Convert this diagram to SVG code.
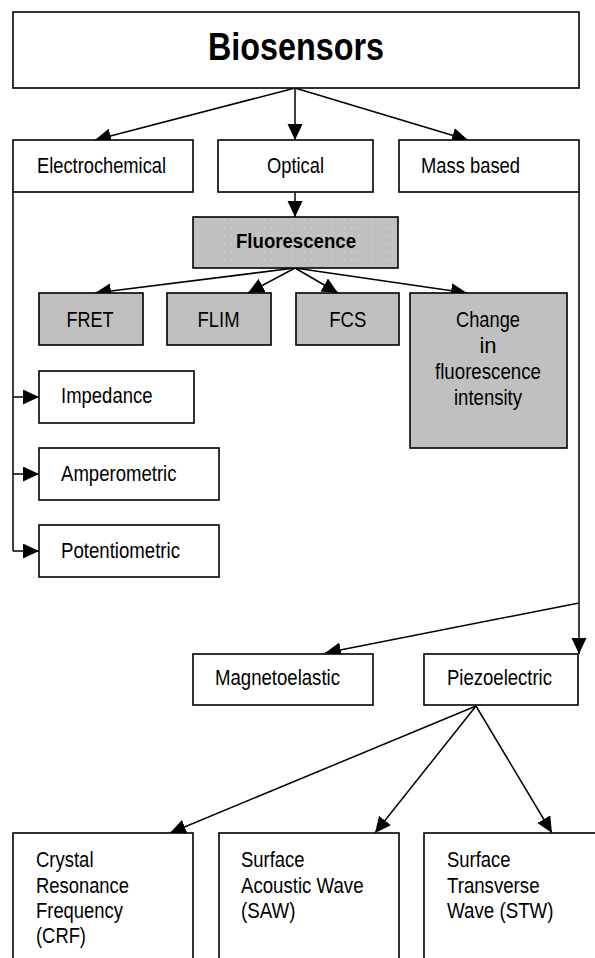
<svg xmlns="http://www.w3.org/2000/svg" width="595" height="958" viewBox="0 0 595 958">
<style>
.box{fill:#fff;stroke:#000;stroke-width:1.6}
.gray{fill:#c0c0c0;stroke:#000;stroke-width:1.6}
.t{font-family:'Liberation Sans Narrow','Liberation Sans',Arial,sans-serif;font-size:22px;fill:#000}
.b{font-weight:bold}
.c{text-anchor:middle}
.ln{fill:none;stroke:#000;stroke-width:1.5}
.ar{fill:none;stroke:#000;stroke-width:1.5;marker-end:url(#ah)}
</style>
<defs>
<marker id="ah" markerUnits="userSpaceOnUse" markerWidth="17" markerHeight="16" refX="16" refY="7.5" orient="auto">
<path d="M0,0 L16,7.5 L0,15 z" fill="#000"/>
</marker>
<pattern id="dots" patternUnits="userSpaceOnUse" width="6.7" height="8">
<rect width="6.7" height="8" fill="#c0c0c0"/>
<rect x="3" y="3" width="1" height="1" fill="#e6e6e6"/>
</pattern>
</defs>
<rect width="595" height="958" fill="#fff"/>

<g id="connectors">
<line class="ar" x1="295" y1="88" x2="95" y2="140"/>
<line class="ar" x1="295" y1="88" x2="295" y2="140"/>
<line class="ar" x1="295" y1="88" x2="468" y2="140"/>
<line class="ar" x1="295" y1="192" x2="295" y2="217"/>
<line class="ar" x1="295" y1="268" x2="95" y2="293"/>
<line class="ar" x1="295" y1="268" x2="248" y2="293"/>
<line class="ar" x1="295" y1="268" x2="338" y2="293"/>
<line class="ar" x1="295" y1="268" x2="467" y2="293"/>
<polyline class="ln" points="13,192 13,551"/>
<line class="ar" x1="13" y1="397" x2="39" y2="397"/>
<line class="ar" x1="13" y1="474" x2="39" y2="474"/>
<line class="ar" x1="13" y1="551" x2="39" y2="551"/>
<line class="ar" x1="579" y1="192" x2="579" y2="654"/>
<line class="ar" x1="579" y1="603" x2="325" y2="653"/>
<line class="ar" x1="476" y1="706" x2="170" y2="833"/>
<line class="ar" x1="476" y1="706" x2="375" y2="833"/>
<line class="ar" x1="476" y1="706" x2="552" y2="833"/>
</g>

<g id="biosensors">
<rect class="box" x="13" y="12" width="566" height="76"/>
<text class="t b c" x="296" y="60" style="font-size:38px" textLength="176" lengthAdjust="spacingAndGlyphs">Biosensors</text>
</g>
<g id="electrochemical">
<rect class="box" x="13" y="140" width="180" height="52"/>
<text class="t" x="37" y="173" textLength="129" lengthAdjust="spacingAndGlyphs">Electrochemical</text>
</g>
<g id="optical">
<rect class="box" x="218" y="140" width="155" height="52"/>
<text class="t c" x="295.5" y="173" textLength="57" lengthAdjust="spacingAndGlyphs">Optical</text>
</g>
<g id="massbased">
<rect class="box" x="399" y="140" width="180" height="52"/>
<text class="t" x="421" y="173" textLength="99" lengthAdjust="spacingAndGlyphs">Mass based</text>
</g>
<g id="fluorescence">
<rect x="193" y="217" width="205" height="51" fill="url(#dots)" stroke="#000" stroke-width="1.6"/>
<text class="t b c" x="296" y="248" style="font-size:21px" textLength="120" lengthAdjust="spacingAndGlyphs">Fluorescence</text>
</g>
<g id="fret">
<rect class="gray" x="39" y="293" width="104" height="52"/>
<text class="t c" x="90" y="327" textLength="47" lengthAdjust="spacingAndGlyphs">FRET</text>
</g>
<g id="flim">
<rect class="gray" x="167" y="293" width="104" height="52"/>
<text class="t c" x="218.6" y="327" textLength="42" lengthAdjust="spacingAndGlyphs">FLIM</text>
</g>
<g id="fcs">
<rect class="gray" x="296" y="293" width="103" height="52"/>
<text class="t c" x="347.8" y="327" textLength="37" lengthAdjust="spacingAndGlyphs">FCS</text>
</g>
<g id="change">
<rect class="gray" x="410" y="293" width="157" height="155"/>
<text class="t c" x="488" y="327" textLength="64" lengthAdjust="spacingAndGlyphs">Change</text>
<text class="t c" x="488" y="353">in</text>
<text class="t c" x="488" y="379" textLength="106" lengthAdjust="spacingAndGlyphs">fluorescence</text>
<text class="t c" x="488" y="405" textLength="68" lengthAdjust="spacingAndGlyphs">intensity</text>
</g>
<g id="impedance">
<rect class="box" x="39" y="371" width="155" height="52"/>
<text class="t" x="61" y="403" textLength="91.5" lengthAdjust="spacingAndGlyphs">Impedance</text>
</g>
<g id="amperometric">
<rect class="box" x="39" y="448" width="180" height="52"/>
<text class="t" x="61" y="481" textLength="115.5" lengthAdjust="spacingAndGlyphs">Amperometric</text>
</g>
<g id="potentiometric">
<rect class="box" x="39" y="525" width="180" height="52"/>
<text class="t" x="61" y="558" textLength="119" lengthAdjust="spacingAndGlyphs">Potentiometric</text>
</g>
<g id="magnetoelastic">
<rect class="box" x="193" y="654" width="180" height="51"/>
<text class="t" x="215" y="685" textLength="125" lengthAdjust="spacingAndGlyphs">Magnetoelastic</text>
</g>
<g id="piezoelectric">
<rect class="box" x="424" y="654" width="154" height="51"/>
<text class="t" x="447" y="685" textLength="105" lengthAdjust="spacingAndGlyphs">Piezoelectric</text>
</g>
<g id="crf">
<rect class="box" x="13" y="833" width="180" height="140"/>
<text class="t" x="36" y="867" textLength="57.5" lengthAdjust="spacingAndGlyphs">Crystal</text>
<text class="t" x="36" y="892.5" textLength="93" lengthAdjust="spacingAndGlyphs">Resonance</text>
<text class="t" x="36" y="918" textLength="87" lengthAdjust="spacingAndGlyphs">Frequency</text>
<text class="t" x="36" y="943" textLength="50" lengthAdjust="spacingAndGlyphs">(CRF)</text>
</g>
<g id="saw">
<rect class="box" x="219" y="833" width="180" height="140"/>
<text class="t" x="241" y="867" textLength="63.5" lengthAdjust="spacingAndGlyphs">Surface</text>
<text class="t" x="241" y="892.5" textLength="122.5" lengthAdjust="spacingAndGlyphs">Acoustic Wave</text>
<text class="t" x="241" y="918" textLength="54.5" lengthAdjust="spacingAndGlyphs">(SAW)</text>
</g>
<g id="stw">
<rect class="box" x="424" y="833" width="190" height="140"/>
<text class="t" x="447" y="867" textLength="63.5" lengthAdjust="spacingAndGlyphs">Surface</text>
<text class="t" x="447" y="892.5" textLength="92.5" lengthAdjust="spacingAndGlyphs">Transverse</text>
<text class="t" x="447" y="918" textLength="106.5" lengthAdjust="spacingAndGlyphs">Wave (STW)</text>
</g>
</svg>
